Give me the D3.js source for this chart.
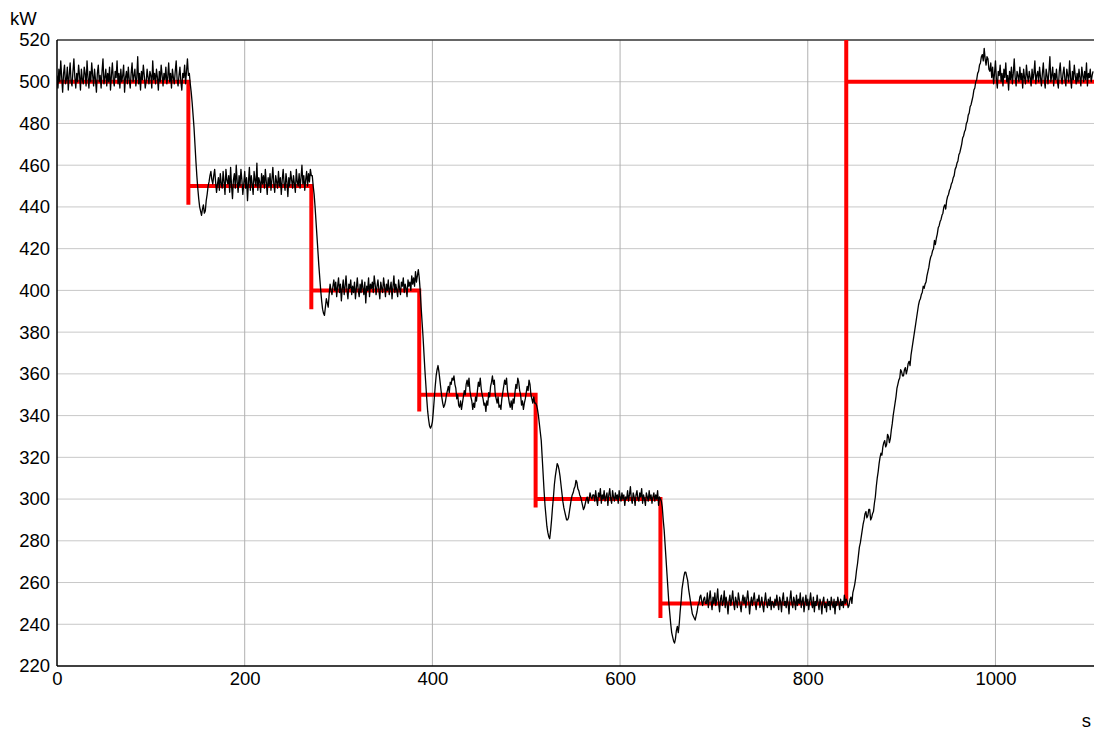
<!DOCTYPE html>
<html>
<head>
<meta charset="utf-8">
<script src="https://cdn.jsdelivr.net/npm/d3@7"></script>
<style>
  html, body { margin: 0; padding: 0; background: #fff; }
  svg { display: block; font-family: "Liberation Sans", Arial, Helvetica, sans-serif; }
</style>
</head>
<body>
<svg id="chart" width="1094" height="731"></svg>
<script>
// Measured power output (kW), sampled every 1 s, grouped by setpoint phase.
const sampleStep = 1;
const segmentStart = [0, 142, 272, 386, 510, 644, 842];

const phase500 = [
  503,497,506,500,510,502,495,504,508,499,501,507,496,503,509,500,498,505,511,502,
  497,504,500,508,503,496,506,501,499,507,504,498,510,502,497,505,500,509,503,498,
  506,501,495,504,508,500,503,497,505,511,499,502,506,498,504,500,507,496,503,509,
  501,498,505,502,510,499,504,497,506,500,503,508,495,502,505,499,507,501,497,504,
  509,500,503,506,498,502,512,499,504,496,505,501,508,503,497,500,506,502,499,505,
  503,497,510,501,504,499,506,502,496,505,500,508,503,498,504,501,507,499,502,509,
  500,504,497,506,502,499,505,510,501,498,503,507,500,496,504,502,508,499,505,511,
  503,504
];
const phase450 = [
  499,495,490,484,478,470,462,455,449,444,440,438,436,439,441,437,438,443,446,450,
  452,455,457,453,451,455,458,452,447,451,
  454,448,456,451,449,457,452,446,458,453,451,455,447,459,450,444,453,456,449,460,
  452,447,455,450,458,453,446,451,457,449,454,443,452,459,448,455,451,446,457,453,
  450,461,448,454,452,447,456,451,455,449,458,452,446,454,450,456,448,453,459,451,
  447,455,452,449,457,450,454,446,453,458,451,448,456,452,445,454,450,457,453,449,
  455,451,447,458,452,450,456,449,454,460,451,455,448,453,457,450,456,452,458,455
];
const phase400 = [
  455,450,446,440,433,426,419,412,406,400,395,391,389,388,392,396,394,392,398,403,
  400,398,402,405,
  400,404,397,402,406,399,403,395,401,405,398,402,407,400,396,403,401,405,398,402,
  399,404,396,401,406,400,397,403,399,405,401,398,404,394,402,400,406,397,403,401,
  404,399,407,403,398,402,405,400,396,404,401,399,406,402,397,403,400,405,398,401,
  404,396,402,407,399,403,400,397,405,401,398,404,402,406,399,403,401,397,405,402,
  404,400,407,403,406,402,409,404,407,410
];
const phase350 = [
  406,400,392,385,378,370,362,355,348,342,338,335,334,335,337,342,348,354,359,362,
  364,361,357,353,349,346,344,345,347,350,
  352,354,351,356,355,358,357,359,355,353,348,350,345,344,
  347,343,346,349,352,350,355,357,354,358,352,349,347,343,
  346,344,349,347,352,356,354,358,353,350,348,345,346,342,
  347,345,351,349,354,356,359,355,357,350,348,346,349,344,
  345,343,348,351,354,357,355,358,352,349,346,344,347,343,
  348,346,351,355,353,358,356,352,350,345,347,343,346,348,
  351,354,352,357,355,350,348,346,349,346
];
const phase300 = [
  346,345,343,340,336,332,328,320,312,304,297,292,287,284,282,281,285,290,296,301,
  307,311,314,317,316,314,311,307,303,299,296,294,292,290,290,291,294,297,300,302,
  303,305,306,309,308,305,304,302,301,299,297,295,296,298,300,301,298,300,303,301,
  300,302,
  302,299,304,300,297,303,301,305,298,302,300,304,299,301,303,297,302,305,300,298,
  304,301,299,303,300,302,298,304,301,299,303,300,302,297,301,300,304,299,302,306,
  300,298,303,301,297,302,304,300,299,303,301,305,298,302,300,297,303,301,299,304,
  300,302,298,301,303,299,302,300,304,297,301,300
];
const phase250 = [
  299,296,290,285,278,271,264,257,250,245,240,236,234,232,231,233,237,239,236,240,
  246,251,257,260,263,265,265,263,261,257,254,251,248,245,244,243,242,244,246,249,
  250,253,254,251,249,252,253,250,
  250,255,248,252,256,251,247,253,250,255,249,252,257,250,246,252,254,249,251,256,
  248,253,250,245,251,254,249,252,256,250,247,253,251,248,255,252,249,246,251,254,
  250,253,248,252,256,251,245,250,253,249,252,255,250,247,252,251,254,248,250,253,
  249,246,251,255,250,248,252,249,253,247,251,250,248,252,249,254,250,247,253,251,
  246,252,255,249,251,248,253,250,245,252,256,250,248,253,251,247,254,249,252,250,
  255,248,251,253,246,250,254,249,252,247,251,255,250,248,253,246,251,249,254,250,
  247,252,250,245,251,253,248,250,246,252,249,251,247,253,250,248,252,245,251,249,
  253,250,247,252,249,251,248,254,250,252
];
const phaseRamp = [
  251,248,249,252,253,250,255,257,259,262,
  266,269,273,277,279,282,285,288,290,293,
  294,291,292,295,295,290,291,293,294,298,
  301,306,310,313,317,320,322,321,325,327,
  328,325,326,331,330,327,329,333,336,340,
  343,346,349,353,355,357,358,362,361,359,
  359,362,363,360,362,365,366,364,369,372,
  375,378,381,384,387,390,393,395,396,398,
  399,402,401,403,404,407,409,411,414,416,
  417,419,420,424,422,425,427,430,431,433,
  434,436,437,440,441,439,443,445,446,448,
  449,451,452,454,455,458,459,461,462,465,
  466,468,470,473,474,476,477,480,481,484,
  485,488,489,491,493,496,497,500,501,504,
  505,508,509,512,513,510,516,511,508,512,
  511,506,505,509,
  502,507,499,504,510,501,497,505,503,508,500,504,498,506,502,509,500,503,496,505,
  501,507,499,504,511,502,498,505,503,500,507,501,504,497,506,502,499,508,503,500,
  505,502,498,506,501,504,510,499,503,505,500,507,502,498,504,509,501,497,506,503,
  499,505,512,500,503,507,498,504,501,506,500,497,505,509,502,499,504,507,501,498,
  506,503,500,510,502,497,505,501,508,503,499,504,500,506,502,498,507,503,500,505,
  501,509,498,504,502,506,500,503,505
];
const phases = [phase500, phase450, phase400, phase350, phase300, phase250, phaseRamp];

// Power setpoint (kW) as a step trace.
const setpointTime  = [0, 140, 140, 140, 271, 271, 271, 386, 386, 386, 510, 510, 510, 643, 643, 643, 841, 841, 841, 1105];
const setpointValue = [500, 500, 441, 450, 450, 391, 400, 400, 342, 350, 350, 296, 300, 300, 243, 250, 250, 560, 500, 500];

// Axis ticks
const xTicks = [0, 200, 400, 600, 800, 1000];
const yTicks = [220, 240, 260, 280, 300, 320, 340, 360, 380, 400, 420, 440, 460, 480, 500, 520];
const xDomain = [0, 1105];
const yDomain = [220, 520];

const measured = [];
phases.forEach((vals, k) => {
  vals.forEach((v, i) => measured.push({ t: segmentStart[k] + i * sampleStep, v }));
});
const setpoint = setpointTime.map((t, i) => ({ t, v: setpointValue[i] }));

const plot = { left: 57, right: 1094, top: 40, bottom: 666 };
const svg = d3.select("#chart");

const x = d3.scaleLinear().domain(xDomain).range([plot.left, plot.right]);
const y = d3.scaleLinear().domain(yDomain).range([plot.bottom, plot.top]);

svg.append("defs").append("clipPath").attr("id", "plotClip")
  .append("rect")
  .attr("x", plot.left).attr("y", plot.top)
  .attr("width", plot.right - plot.left).attr("height", plot.bottom - plot.top);

// Grid
const grid = svg.append("g");
grid.selectAll("line.h").data(yTicks.filter(d => d > yDomain[0] && d < yDomain[1]))
  .join("line").attr("class", "h")
  .attr("x1", plot.left).attr("x2", plot.right)
  .attr("y1", d => y(d)).attr("y2", d => y(d))
  .attr("stroke", "#c8c8c8").attr("stroke-width", 1);
grid.selectAll("line.v").data(xTicks.filter(d => d > xDomain[0]))
  .join("line").attr("class", "v")
  .attr("y1", plot.top).attr("y2", plot.bottom)
  .attr("x1", d => x(d)).attr("x2", d => x(d))
  .attr("stroke", "#b0b0b0").attr("stroke-width", 1);

// Top frame line
svg.append("line").attr("x1", plot.left).attr("x2", plot.right)
  .attr("y1", plot.top).attr("y2", plot.top)
  .attr("stroke", "#333").attr("stroke-width", 1.5);

// Traces: setpoint underneath, measured power on top
const line = d3.line().x(d => x(d.t)).y(d => y(d.v));
const traces = svg.append("g").attr("clip-path", "url(#plotClip)");

traces.append("path").datum(setpoint)
  .attr("d", line)
  .attr("fill", "none").attr("stroke", "#ff0000").attr("stroke-width", 4)
  .attr("stroke-linecap", "round").attr("stroke-linejoin", "miter");

traces.append("path").datum(measured)
  .attr("d", line)
  .attr("fill", "none").attr("stroke", "#000").attr("stroke-width", 1.3)
  .attr("stroke-linejoin", "round");

// Left and bottom axis lines
svg.append("line").attr("x1", plot.left).attr("x2", plot.right)
  .attr("y1", plot.bottom).attr("y2", plot.bottom)
  .attr("stroke", "#000").attr("stroke-width", 1.5);
svg.append("line").attr("x1", plot.left).attr("x2", plot.left)
  .attr("y1", plot.top).attr("y2", plot.bottom)
  .attr("stroke", "#000").attr("stroke-width", 1.5);

// Tick labels
const fontSize = "18.5px";
const yAxis = svg.append("g")
  .attr("transform", `translate(${plot.left - 7},0)`)
  .call(d3.axisLeft(y).tickValues(yTicks).tickSize(0).tickPadding(0).tickFormat(d3.format("d")));
yAxis.select(".domain").remove();
yAxis.selectAll("text").attr("font-size", fontSize).attr("fill", "#000")
  .attr("font-family", "'Liberation Sans', Arial, sans-serif");

const xAxis = svg.append("g")
  .attr("transform", `translate(0,${plot.bottom + 6})`)
  .call(d3.axisBottom(x).tickValues(xTicks).tickSize(0).tickPadding(0).tickFormat(d3.format("d")));
xAxis.select(".domain").remove();
xAxis.selectAll("text").attr("font-size", fontSize).attr("fill", "#000")
  .attr("font-family", "'Liberation Sans', Arial, sans-serif");

// Units
svg.append("text").text("kW")
  .attr("x", 10).attr("y", 25)
  .attr("font-size", fontSize).attr("fill", "#000");
svg.append("text").text("s")
  .attr("x", 1091).attr("y", 727).attr("text-anchor", "end")
  .attr("font-size", fontSize).attr("fill", "#000");
</script>
</body>
</html>
